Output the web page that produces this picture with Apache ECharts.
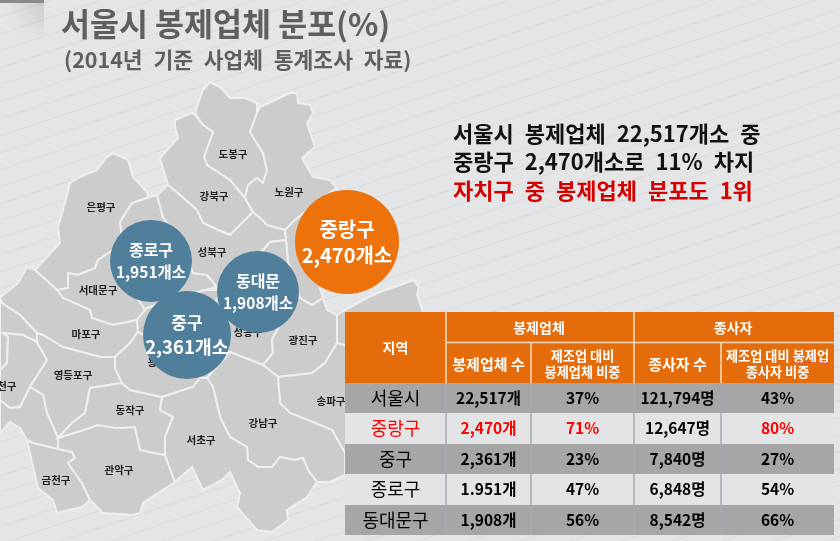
<!DOCTYPE html>
<html>
<head>
<meta charset="utf-8">
<style>html,body{margin:0;padding:0;background:#e4e5e7}#chart{width:840px;height:541px}</style>
<script src="https://cdn.jsdelivr.net/npm/echarts@6/dist/echarts.min.js"></script>
</head>
<body>
<div id="chart"></div>
<script>
const FONT = '"Noto Sans CJK KR", sans-serif';
const GAP = '\u2002'; // the source text has wide word gaps

// bubbles
const bubbleNames = ['종로구', '동대문', '중구', '중랑구'];
const bubbleCounts = [1951, 1908, 2361, 2470];
const bubbleCenters = [[151, 261], [258, 292], [187, 335], [347, 242]];
const bubbleSizes = [82, 82, 88, 104];
const bubbleColors = ['#4f7f9b', '#4f7f9b', '#4f7f9b', '#ed720b'];
const bubbleNameSizes = [16, 16, 17, 20];
const bubbleCountSizes = [15.5, 15.5, 18.5, 20];

// table
const tableTop = ['지역', '봉제업체', '종사자'];
const tableHead = ['봉제업체 수', '제조업 대비\n봉제업체 비중', '종사자 수', '제조업 대비 봉제업\n종사자 비중'];
const regions = ['서울시', '중랑구', '중구', '종로구', '동대문구'];
const firmCounts = ['22,517개', '2,470개', '2,361개', '1.951개', '1,908개'];
const firmShares = ['37%', '71%', '23%', '47%', '56%'];
const workerCounts = ['121,794명', '12,647명', '7,840명', '6,848명', '8,542명'];
const workerShares = ['43%', '80%', '27%', '54%', '66%'];

// map outlines: name, label point, ring
const districts = [
  ['도봉구', [233, 154], [[203,90],[210,82],[220,87],[230,98],[245,98],[257,103],[257,113],[250,132],[263,153],[267,170],[263,183],[257,178],[248,185],[245,198],[230,180],[207,165],[204,157],[210,140],[213,132],[203,125],[195,113],[200,98]]],
  ['강북구', [214, 196], [[175,120],[192,113],[195,115],[203,125],[213,132],[210,140],[204,157],[207,165],[230,180],[245,198],[253,212],[230,235],[218,230],[203,223],[197,210],[180,195],[168,185],[160,158],[178,138],[175,127]]],
  ['노원구', [289, 192], [[260,107],[290,93],[297,93],[298,103],[310,105],[313,113],[307,123],[315,147],[302,158],[313,177],[330,180],[337,188],[320,200],[295,220],[285,230],[267,225],[260,218],[253,212],[245,198],[248,185],[257,178],[263,183],[267,170],[263,153],[250,132],[257,113]]],
  ['은평구', [101, 207], [[107,157],[113,153],[128,160],[133,177],[148,193],[147,198],[132,203],[120,222],[122,237],[113,250],[98,260],[95,268],[78,275],[68,273],[68,288],[57,290],[35,270],[60,243],[58,227],[65,203],[70,183],[80,177],[97,170]]],
  ['종로', null, [[147,198],[157,195],[163,217],[172,230],[190,265],[193,273],[207,275],[217,287],[205,290],[147,308],[145,310],[135,295],[125,262],[113,250],[122,237],[120,222],[132,203]]],
  ['성북구', [212, 252], [[157,195],[168,185],[180,195],[197,210],[203,223],[218,230],[230,235],[253,212],[260,218],[267,225],[285,230],[286,240],[270,242],[257,257],[225,290],[217,287],[207,275],[193,273],[190,265],[172,230],[163,217]]],
  ['중랑', null, [[286,240],[285,230],[295,220],[320,200],[337,188],[345,230],[335,270],[320,288],[323,298],[312,305],[300,298],[288,262]]],
  ['동대문', null, [[257,257],[270,242],[286,240],[288,262],[300,298],[290,298],[283,318],[250,325],[225,290]]],
  ['서대문구', [98, 290], [[57,290],[68,288],[68,273],[78,275],[95,268],[98,260],[113,250],[125,262],[135,295],[145,310],[137,320],[113,325],[92,318],[90,310],[63,298]]],
  ['마포구', [86, 334], [[0,297],[3,295],[18,283],[27,267],[35,270],[57,290],[63,298],[90,310],[92,318],[113,325],[137,320],[138,332],[130,343],[115,357],[100,357],[63,347],[43,335],[37,333],[20,315],[2,303]]],
  ['강서', null, [[0,297],[2,303],[20,315],[37,333],[37,342],[23,335],[3,333],[8,337],[7,363],[0,370]]],
  ['양천구', [2, 386], [[0,370],[7,363],[8,337],[3,333],[23,335],[37,342],[47,360],[30,387],[20,407],[10,408],[0,400]]],
  ['영등포구', [73, 375], [[43,335],[63,347],[100,357],[115,357],[115,368],[122,383],[90,388],[85,413],[72,423],[58,438],[47,413],[43,395],[30,387],[47,360],[37,342],[37,333]]],
  ['구로', null, [[0,400],[10,408],[20,407],[30,387],[43,395],[47,413],[58,438],[58,449],[33,443],[27,440],[20,428],[10,422],[0,433]]],
  ['금천구', [56, 480], [[27,440],[33,443],[58,449],[72,452],[75,458],[68,463],[82,483],[90,500],[82,507],[57,513],[53,500],[38,488]]],
  ['관악구', [119, 470], [[58,438],[90,428],[97,425],[117,428],[135,427],[140,450],[165,455],[175,482],[143,503],[140,513],[133,515],[103,513],[90,500],[82,483],[68,463],[75,458],[72,452],[58,449]]],
  ['동작구', [130, 410], [[58,438],[72,423],[85,413],[90,388],[122,383],[130,390],[162,397],[160,410],[173,417],[165,437],[165,455],[140,450],[135,427],[117,428],[97,425],[90,428]]],
  ['중', null, [[147,308],[205,290],[225,290],[200,320],[205,345],[160,345],[138,332],[137,320],[145,310]]],
  ['용산구', [162, 362], [[138,332],[160,345],[205,345],[230,352],[207,378],[200,378],[193,387],[162,397],[130,390],[122,383],[115,368],[115,357],[130,343]]],
  ['성동구', [248, 332], [[225,290],[250,325],[283,318],[272,340],[273,353],[263,365],[230,352],[205,345],[200,320]]],
  ['광진구', [303, 340], [[290,298],[300,298],[312,305],[323,298],[327,310],[337,315],[337,333],[337,343],[325,363],[312,373],[278,377],[263,365],[273,353],[272,340],[283,318]]],
  ['강동', null, [[337,315],[345,310],[367,298],[380,292],[400,285],[413,280],[419,287],[417,295],[423,312],[424,330],[360,350],[337,343],[337,333]]],
  ['송파구', [331, 401], [[278,377],[312,373],[325,363],[337,343],[360,350],[360,460],[345,453],[332,430],[320,425],[290,413],[280,403]]],
  ['강남구', [263, 423], [[207,378],[230,352],[263,365],[278,377],[280,403],[290,413],[320,425],[332,430],[345,453],[345,475],[330,482],[317,482],[308,470],[303,458],[295,460],[280,457],[272,467],[258,467],[248,460],[247,447],[230,437],[220,417],[213,387]]],
  ['서초구', [201, 440], [[162,397],[193,387],[200,378],[207,378],[213,387],[220,417],[230,437],[247,447],[248,460],[258,467],[272,467],[280,457],[295,460],[303,458],[308,470],[317,482],[307,497],[287,510],[288,520],[272,532],[257,530],[237,507],[240,493],[230,472],[222,480],[203,490],[192,467],[175,482],[165,455],[165,437],[173,417],[160,410]]]
];

echarts.registerMap('seoul', {
  type: 'FeatureCollection',
  features: districts.map(d => ({
    type: 'Feature',
    properties: { name: d[0], cp: d[1] || d[2][0] },
    geometry: { type: 'Polygon', coordinates: [d[2].concat([d[2][0]])] }
  }))
});

// striped background tile
function stripeTile() {
  let c = document.createElement('canvas');
  c.width = 51;
  c.height = 17;
  let ctx = c.getContext('2d');
  ctx.fillStyle = '#e4e5e7';
  ctx.fillRect(0, 0, 51, 17);
  ctx.strokeStyle = '#dcdde0';
  ctx.lineWidth = 1.2;
  ctx.beginPath();
  ctx.moveTo(-3, 18);
  ctx.lineTo(54, -1);
  ctx.stroke();
  return c;
}

// soft shadow in the top left corner
function cornerShade() {
  let c = document.createElement('canvas');
  c.width = 44;
  c.height = 40;
  let ctx = c.getContext('2d');
  for (let y = 0; y < 40; y++) {
    let g = ctx.createLinearGradient(8, 0, 44, 0);
    g.addColorStop(0, 'rgba(0,0,0,0)');
    g.addColorStop(1, 'rgba(0,0,0,' + (0.12 * (1 - y / 40)) + ')');
    ctx.fillStyle = g;
    ctx.fillRect(0, y, 44, 1);
  }
  return c;
}

// table layout
const colX = [345, 446, 531, 634, 721, 834];
const rowY = [383, 413, 444, 474, 505, 535];
const ORANGE = '#e46c0a';

function rect(x, y, w, h, fill) {
  return { type: 'rect', z: 100, shape: { x, y, width: w, height: h }, style: { fill } };
}
function line(x1, y1, x2, y2, stroke, lineWidth) {
  return { type: 'line', z: 101, shape: { x1, y1, x2, y2 }, style: { stroke, lineWidth } };
}
function cell(text, x, y, fontSize, fill, fontWeight, lineHeight) {
  return {
    type: 'text', z: 102, x, y,
    style: { text, fill, fontSize, fontWeight, fontFamily: FONT, align: 'center', verticalAlign: 'middle', lineHeight: lineHeight || fontSize + 3 }
  };
}

function buildTable() {
  let els = [];
  let mid = i => (colX[i] + colX[i + 1]) / 2;
  els.push(rect(colX[0], 312, colX[5] - colX[0], rowY[0] - 312, ORANGE));
  els.push(line(446, 312, 446, 383, '#fbdcc0', 1.5));
  els.push(line(634, 312, 634, 383, '#fbdcc0', 1.5));
  els.push(line(446, 342.5, 834, 342.5, '#fbdcc0', 1.5));
  els.push(line(531, 343, 531, 383, '#fbdcc0', 1.5));
  els.push(line(721, 343, 721, 383, '#fbdcc0', 1.5));
  els.push(cell(tableTop[0], mid(0), 348, 14, '#fff', 'bold'));
  els.push(cell(tableTop[1], 539, 328, 14, '#fff', 'bold'));
  els.push(cell(tableTop[2], 733, 328, 14, '#fff', 'bold'));
  tableHead.forEach((t, i) => {
    let two = t.indexOf('\n') >= 0;
    els.push(cell(t, mid(i + 1), 364, two ? 13.2 : 15, '#fff', 'bold', 16));
  });
  // spell-check squiggle seen in the source screenshot
  els.push({ type: 'line', z: 103, shape: { x1: 793, y1: 362.5, x2: 828, y2: 362.5 }, style: { stroke: '#d94040', lineWidth: 1, lineDash: [1.5, 1.5] } });

  regions.forEach((r, i) => {
    let top = rowY[i], bottom = rowY[i + 1], y = (top + bottom) / 2;
    els.push(rect(colX[0], top, colX[5] - colX[0], bottom - top, i % 2 ? '#e3e4e6' : '#a6a6a6'));
    let red = i === 1 ? '#ff0000' : '#000';
    els.push(cell(r, mid(0), y, 18, red, 'normal'));
    els.push(cell(firmCounts[i], mid(1), y, 15.5, red, 'bold'));
    els.push(cell(firmShares[i], mid(2), y, 15.5, red, 'bold'));
    els.push(cell(workerCounts[i], mid(3), y, 15.5, '#000', 'bold'));
    els.push(cell(workerShares[i], mid(4), y, 15.5, red, 'bold'));
  });
  [446, 531, 634, 721].forEach(x => els.push(line(x, 383, x, 535, '#a9a9b5', 1.5)));
  return els;
}

let chart = echarts.init(document.getElementById('chart'));
chart.setOption({
  animation: false,
  backgroundColor: { image: stripeTile(), repeat: 'repeat' },
  title: [
    { text: '서울시 봉제업체 분포(%)', left: 56, top: 3, textStyle: { fontFamily: FONT, fontSize: 31.5, fontWeight: 'bold', color: '#5f5f5f' } },
    { text: '(2014년 기준 사업체 통계조사 자료)'.split(' ').join(GAP), left: 59, top: 44, textStyle: { fontFamily: FONT, fontSize: 21.5, fontWeight: 'bold', color: '#5f5f5f' } },
    { text: '서울시 봉제업체 22,517개소 중'.split(' ').join(GAP), left: 448, top: 118, textStyle: { fontFamily: FONT, fontSize: 22, fontWeight: 'bold', color: '#111' } },
    { text: '중랑구 2,470개소로 11% 차지'.split(' ').join(GAP), left: 448, top: 146, textStyle: { fontFamily: FONT, fontSize: 22, fontWeight: 'bold', color: '#111' } },
    { text: '자치구 중 봉제업체 분포도 1위'.split(' ').join(GAP), left: 448, top: 175, textStyle: { fontFamily: FONT, fontSize: 22, fontWeight: 'bold', color: '#d40000' } }
  ],
  geo: {
    map: 'seoul',
    projection: { project: p => p, unproject: p => p },
    boundingCoords: [[0, 0], [840, 541]],
    left: 0, top: 0, width: 840, height: 541,
    roam: false,
    silent: true,
    itemStyle: { areaColor: '#cccccc', borderColor: '#efefef', borderWidth: 2 },
    label: {
      show: true,
      formatter: p => (p.name.length >= 3 && p.name !== '동대문' ? p.name : ''),
      fontFamily: FONT, fontSize: 10.5, fontWeight: 'bold', color: '#222'
    },
    emphasis: { disabled: true }
  },
  series: [{
    type: 'scatter',
    coordinateSystem: 'geo',
    z: 10,
    silent: true,
    data: bubbleNames.map((n, i) => ({
      name: n,
      value: bubbleCenters[i].concat(bubbleCounts[i]),
      symbolSize: bubbleSizes[i],
      itemStyle: { color: bubbleColors[i], opacity: 1 },
      label: {
        show: true,
        formatter: '{a|' + n + '}\n{b|' + bubbleCounts[i].toLocaleString('en-US') + '개소}',
        rich: {
          a: { color: '#fff', fontFamily: FONT, fontWeight: 'bold', fontSize: bubbleNameSizes[i], lineHeight: bubbleNameSizes[i] + 7 },
          b: { color: '#fff', fontFamily: FONT, fontWeight: 'bold', fontSize: bubbleCountSizes[i], lineHeight: bubbleCountSizes[i] + 6 }
        }
      }
    }))
  }],
  graphic: [
    { type: 'image', z: 5, x: 0, y: 0, style: { image: cornerShade(), width: 44, height: 40 } },
    { type: 'rect', z: 6, shape: { x: 0, y: 0, width: 44, height: 3 }, style: { fill: '#8a8a8a' } }
  ].concat(buildTable())
});
</script>
</body>
</html>
